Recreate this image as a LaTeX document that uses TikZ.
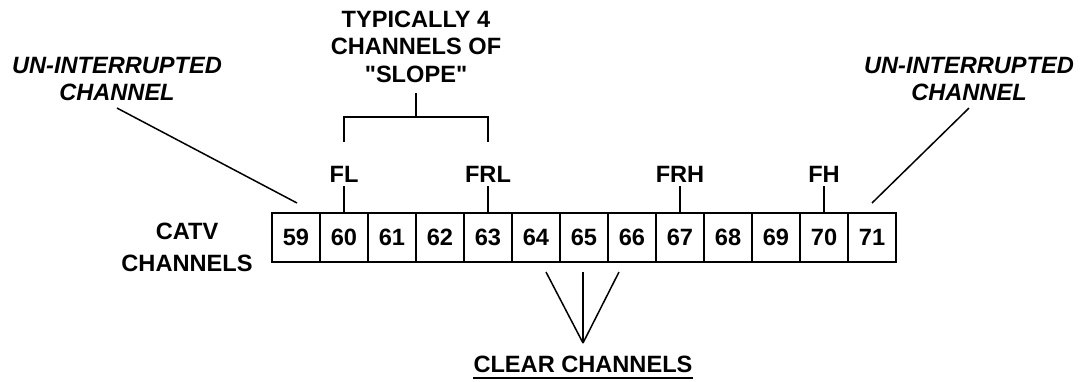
\documentclass[tikz,border=0pt]{standalone}
\usepackage{fontspec}
\setmainfont{Liberation Sans}[Ligatures=TeXOff]
\usetikzlibrary{positioning,calc}

\begin{document}
\begin{tikzpicture}[x=0.5pt,y=-0.5pt,
	chan/.style={draw,line width=1pt,minimum width=24pt,minimum height=24.5pt,inner sep=0pt,font=\fontsize{11.8}{13.75}\selectfont\bfseries},
	tag/.style={inner sep=1.5pt,font=\fontsize{11.8}{13.75}\selectfont\bfseries},
	note/.style={align=center,font=\fontsize{11.8}{13.75}\selectfont\bfseries\itshape}]
	\useasboundingbox (0,0) rectangle (1089,381);
	
	%channels
	\foreach \n in {59,...,71}
	\node[chan] (c\n) at ({296+48*(\n-59)},237.5) {\n};
	\node[tag,align=center,font=\fontsize{11.8}{15.75}\selectfont\bfseries] (catv) at (187,247.5) {CATV\\CHANNELS};
	
	%pilot markers
	\node[tag,above=13pt of c60] (fl) {FL};
	\node[tag,above=13pt of c63] (frl) {FRL};
	\node[tag,above=13pt of c67] (frh) {FRH};
	\node[tag,above=13pt of c70] (fh) {FH};
	\foreach \a/\b in {c60/fl,c63/frl,c67/frh,c70/fh}
	\draw[line width=1pt] (\a) -- (\b);
	
	%slope bracket
	\node[tag,align=center,anchor=south,inner ysep=5pt] (slope) at (416,93) {TYPICALLY 4\\CHANNELS OF\\"SLOPE"};
	\coordinate (brk) at (416,117);
	\coordinate (brkfoot) at (416,142);
	\draw[line width=1pt] (fl |- brkfoot) -- (fl |- brk) -- (frl |- brk) -- (frl |- brkfoot);
	\draw[line width=1pt] (slope) -- (brk);
	
	%un-interrupted
	\node[note] (unl) at (117,79) {UN-INTERRUPTED\\CHANNEL};
	\node[note] (unr) at (969,79) {UN-INTERRUPTED\\CHANNEL};
	\coordinate (ul) at (297,203);
	\coordinate (ur) at (872,203);
	\draw[line width=0.75pt] (unl.south) -- (ul);
	\draw[line width=0.75pt] (unr.south) -- (ur);
	
	%clear channels
	\coordinate (clr) at (583,343);
	\foreach \dx in {-37,0,36}
	\draw[line width=0.75pt] (clr) -- ($(clr)+(\dx,-71)$);
	\node[tag,anchor=base,inner xsep=0pt] (clear) at (583,372.5) {CLEAR CHANNELS};
	\draw[line width=1pt] ([yshift=-2.5pt]clear.base west) -- ([yshift=-2.5pt]clear.base east);
	
\end{tikzpicture}
\end{document}
